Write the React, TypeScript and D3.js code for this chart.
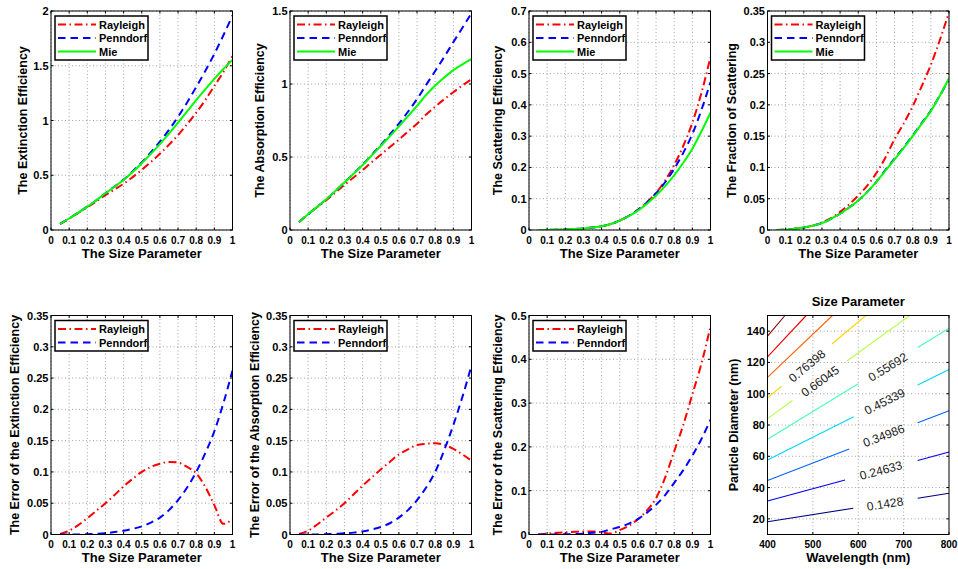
import * as d3 from 'd3';
import { useEffect, useRef } from 'react';

// size parameter samples shared by every curve panel
const sizeParam = [0.05, 0.1, 0.15, 0.2, 0.25, 0.3, 0.35, 0.4, 0.45, 0.5, 0.55, 0.6, 0.65, 0.7, 0.75, 0.8, 0.85, 0.9, 0.95, 1.0];

const mieExt = [0.055, 0.105, 0.158, 0.213, 0.272, 0.335, 0.395, 0.457, 0.53, 0.61, 0.695, 0.785, 0.88, 0.98, 1.083, 1.187, 1.285, 1.38, 1.47, 1.553];
const rayExt = [0.055, 0.104, 0.156, 0.207, 0.262, 0.318, 0.37, 0.422, 0.483, 0.549, 0.62, 0.696, 0.778, 0.867, 0.966, 1.071, 1.187, 1.315, 1.444, 1.59];
const penExt = [0.055, 0.105, 0.158, 0.213, 0.272, 0.336, 0.397, 0.46, 0.535, 0.618, 0.708, 0.806, 0.914, 1.034, 1.164, 1.306, 1.452, 1.608, 1.779, 1.96];

const mieAbs = [0.055, 0.108, 0.16, 0.21, 0.267, 0.325, 0.385, 0.445, 0.51, 0.575, 0.642, 0.71, 0.78, 0.85, 0.925, 0.99, 1.045, 1.095, 1.135, 1.17];
const rayAbs = [0.055, 0.107, 0.157, 0.204, 0.257, 0.309, 0.36, 0.41, 0.464, 0.515, 0.568, 0.619, 0.674, 0.728, 0.791, 0.845, 0.896, 0.944, 0.99, 1.032];
const penAbs = [0.055, 0.108, 0.16, 0.21, 0.267, 0.326, 0.386, 0.447, 0.514, 0.582, 0.654, 0.729, 0.81, 0.897, 0.994, 1.089, 1.186, 1.287, 1.385, 1.486];

const mieSca = [0, 0.0003, 0.0008, 0.0015, 0.003, 0.005, 0.008, 0.012, 0.019, 0.03, 0.044, 0.062, 0.084, 0.11, 0.14, 0.175, 0.215, 0.26, 0.315, 0.375];
const raySca = [0, 0.0003, 0.0008, 0.0015, 0.003, 0.005, 0.008, 0.012, 0.019, 0.0303, 0.0449, 0.0642, 0.0886, 0.119, 0.158, 0.208, 0.269, 0.343, 0.438, 0.553];
const penSca = [0, 0.0003, 0.0008, 0.0015, 0.003, 0.005, 0.008, 0.012, 0.019, 0.0305, 0.0451, 0.0642, 0.0882, 0.1175, 0.1526, 0.1957, 0.2466, 0.3068, 0.3837, 0.473];

const mieFrac = [0.0001, 0.0005, 0.002, 0.004, 0.007, 0.011, 0.018, 0.026, 0.036, 0.047, 0.061, 0.077, 0.095, 0.113, 0.131, 0.15, 0.17, 0.19, 0.215, 0.242];
const rayFrac = [0.0001, 0.0005, 0.002, 0.004, 0.007, 0.012, 0.019, 0.029, 0.041, 0.055, 0.071, 0.091, 0.116, 0.145, 0.17, 0.198, 0.23, 0.264, 0.304, 0.348];
const penFrac = [0.0001, 0.0005, 0.002, 0.004, 0.007, 0.011, 0.018, 0.026, 0.036, 0.047, 0.061, 0.077, 0.096, 0.114, 0.132, 0.151, 0.171, 0.191, 0.215, 0.241];

const rayErrExt = [0.001, 0.006, 0.015, 0.026, 0.038, 0.05, 0.063, 0.077, 0.089, 0.1, 0.108, 0.113, 0.116, 0.115, 0.108, 0.098, 0.076, 0.047, 0.017, 0.025];
const penErrExt = [0, 0, 0, 0.0005, 0.001, 0.002, 0.004, 0.006, 0.009, 0.013, 0.019, 0.027, 0.039, 0.055, 0.075, 0.1, 0.13, 0.165, 0.21, 0.262];
const rayErrAbs = [0.001, 0.006, 0.016, 0.027, 0.038, 0.05, 0.064, 0.078, 0.091, 0.104, 0.116, 0.128, 0.136, 0.143, 0.145, 0.146, 0.143, 0.137, 0.128, 0.118];
const penErrAbs = [0, 0, 0, 0.0005, 0.001, 0.002, 0.003, 0.005, 0.008, 0.012, 0.018, 0.027, 0.039, 0.055, 0.075, 0.1, 0.135, 0.175, 0.22, 0.27];
const rayErrSca = [0, 0.002, 0.004, 0.005, 0.006, 0.007, 0.007, 0.005, 0.002, 0.01, 0.02, 0.035, 0.055, 0.083, 0.13, 0.19, 0.25, 0.32, 0.39, 0.475];
const penErrSca = [0, 0, 0, 0.0005, 0.001, 0.002, 0.004, 0.006, 0.012, 0.017, 0.025, 0.035, 0.05, 0.068, 0.09, 0.118, 0.147, 0.18, 0.218, 0.262];

// tick values
const xTicks = [0, 0.1, 0.2, 0.3, 0.4, 0.5, 0.6, 0.7, 0.8, 0.9, 1];
const extTicks = [0, 0.5, 1, 1.5, 2];
const absTicks = [0, 0.5, 1, 1.5];
const scaTicks = [0, 0.1, 0.2, 0.3, 0.4, 0.5, 0.6, 0.7];
const fracTicks = [0, 0.05, 0.1, 0.15, 0.2, 0.25, 0.3, 0.35];
const errTicks = [0, 0.05, 0.1, 0.15, 0.2, 0.25, 0.3, 0.35];
const errScaTicks = [0, 0.1, 0.2, 0.3, 0.4, 0.5];
const wavelengthTicks = [400, 500, 600, 700, 800];
const diameterTicks = [20, 40, 60, 80, 100, 120, 140];

// contour of the size parameter: levels, visible pieces [wavelength, diameter], label spots
const contourLevels = [0.1428, 0.24633, 0.34986, 0.45339, 0.55692, 0.66045, 0.76398, 0.86751, 0.97104, 1.07457];
const contourSegments = [
  [[[400, 18.2], [589, 26.8]], [[731, 33.2], [800, 36.4]]],
  [[[400, 31.4], [571, 44.8]], [[731, 57.3], [800, 62.7]]],
  [[[400, 44.5], [580, 64.6]], [[731, 81.4], [800, 89.1]]],
  [[[400, 57.7], [590, 85.2]], [[731, 105.5], [800, 115.5]]],
  [[[400, 70.9], [600, 106.4]], [[731, 129.6], [800, 141.8]]],
  [[[400, 84.1], [455, 95.7]], [[575, 120.9], [713.5, 150]]],
  [[[400, 97.3], [431, 104.8]], [[542, 131.8], [616.8, 150]]],
  [[[400, 110.5], [543.2, 150]]],
  [[[400, 123.6], [485.3, 150]]],
  [[[400, 136.8], [438.5, 150]]]
];
const contourLabels = [
  { level: 0.1428, text: '0.1428', at: [659, 29.6] },
  { level: 0.24633, text: '0.24633', at: [650, 51] },
  { level: 0.34986, text: '0.34986', at: [656, 73.2] },
  { level: 0.45339, text: '0.45339', at: [658, 95] },
  { level: 0.55692, text: '0.55692', at: [665, 117] },
  { level: 0.66045, text: '0.66045', at: [516, 108] },
  { level: 0.76398, text: '0.76398', at: [487, 117.8] }
];

const width = 958;
const height = 569;
const colLeft = [51, 290, 529, 767.5];
const rowTop = [11, 315.5];
const panelW = 181.5;
const panelH = 219;
const font = "'Liberation Sans', Arial, Helvetica, sans-serif";

const styles = {
  Rayleigh: { color: '#ff0000', dash: '8 3.5 1.5 3.5' },
  Penndorf: { color: '#0000ff', dash: '7.5 5' },
  Mie: { color: '#00ff00', dash: null }
};

const panels = [
  { col: 0, row: 0, yMax: 2, yTicks: extTicks, yLabel: 'The Extinction Efficiency', yOff: 28,
    series: [['Rayleigh', rayExt], ['Penndorf', penExt], ['Mie', mieExt]] },
  { col: 1, row: 0, yMax: 1.5, yTicks: absTicks, yLabel: 'The Absorption Efficiency', yOff: 30,
    series: [['Rayleigh', rayAbs], ['Penndorf', penAbs], ['Mie', mieAbs]] },
  { col: 2, row: 0, yMax: 0.7, yTicks: scaTicks, yLabel: 'The Scattering Efficiency', yOff: 31,
    series: [['Rayleigh', raySca], ['Penndorf', penSca], ['Mie', mieSca]] },
  { col: 3, row: 0, yMax: 0.35, yTicks: fracTicks, yLabel: 'The Fraction of Scattering', yOff: 36,
    series: [['Rayleigh', rayFrac], ['Penndorf', penFrac], ['Mie', mieFrac]] },
  { col: 0, row: 1, yMax: 0.35, yTicks: errTicks, yLabel: 'The Error of the Extinction Efficiency', yOff: 36,
    series: [['Rayleigh', rayErrExt], ['Penndorf', penErrExt]] },
  { col: 1, row: 1, yMax: 0.35, yTicks: errTicks, yLabel: 'The Error of the Absorption Efficiency', yOff: 35,
    series: [['Rayleigh', rayErrAbs], ['Penndorf', penErrAbs]] },
  { col: 2, row: 1, yMax: 0.5, yTicks: errScaTicks, yLabel: 'The Error of the Scattering Efficiency', yOff: 31,
    series: [['Rayleigh', rayErrSca], ['Penndorf', penErrSca]] }
];

// MATLAB jet colormap
function jet(t) {
  const c = (v) => Math.round(255 * Math.max(0, Math.min(1, v)));
  return d3.rgb(c(1.5 - Math.abs(4 * t - 3)), c(1.5 - Math.abs(4 * t - 2)), c(1.5 - Math.abs(4 * t - 1))).formatHex();
}

function drawFrame(g, left, top, x, y, xt, yt, xLabel, yLabel, yOff) {
  const right = left + panelW;
  const bottom = top + panelH;
  const fmt = d3.format('~g');
  // tick marks (inside, all four sides)
  const tk = 2.5;
  xt.forEach((d) => {
    g.append('line').attr('x1', x(d)).attr('x2', x(d)).attr('y1', bottom).attr('y2', bottom - tk).attr('stroke', '#000');
    g.append('line').attr('x1', x(d)).attr('x2', x(d)).attr('y1', top).attr('y2', top + tk).attr('stroke', '#000');
  });
  yt.forEach((d) => {
    g.append('line').attr('x1', left).attr('x2', left + tk).attr('y1', y(d)).attr('y2', y(d)).attr('stroke', '#000');
    g.append('line').attr('x1', right).attr('x2', right - tk).attr('y1', y(d)).attr('y2', y(d)).attr('stroke', '#000');
  });
  g.append('rect').attr('x', left).attr('y', top).attr('width', panelW).attr('height', panelH)
    .attr('fill', 'none').attr('stroke', '#000').attr('stroke-width', 1);
  g.selectAll('.xt').data(xt).join('text')
    .attr('x', (d) => x(d)).attr('y', bottom + 13.5).attr('text-anchor', 'middle')
    .attr('font-size', 10).attr('font-weight', 'bold').text((d) => fmt(d));
  g.selectAll('.yt').data(yt).join('text')
    .attr('x', left - 2.5).attr('y', (d) => y(d) + 4).attr('text-anchor', 'end')
    .attr('font-size', 11).attr('font-weight', 'bold').text((d) => fmt(d));
  g.append('text').attr('x', left + panelW / 2).attr('y', bottom + 27.5).attr('text-anchor', 'middle')
    .attr('font-size', 13).attr('font-weight', 'bold').text(xLabel);
  g.append('text')
    .attr('transform', `translate(${left - yOff},${top + panelH / 2}) rotate(-90)`)
    .attr('text-anchor', 'middle').attr('dy', '0.35em')
    .attr('font-size', 12.5).attr('font-weight', 'bold').text(yLabel);
}

function drawGrid(g, left, top, x, y, xt, yt) {
  const grid = g.append('g').attr('stroke', '#8c8c8c').attr('stroke-width', 0.8).attr('stroke-dasharray', '1 2.5');
  xt.forEach((d) => grid.append('line').attr('x1', x(d)).attr('x2', x(d)).attr('y1', top).attr('y2', top + panelH));
  yt.forEach((d) => grid.append('line').attr('x1', left).attr('x2', left + panelW).attr('y1', y(d)).attr('y2', y(d)));
}

export default function App() {
  const svgRef = useRef(null);

  useEffect(() => {
    const svg = d3.select(svgRef.current);
    svg.selectAll('*').remove();
    svg.attr('width', width).attr('height', height).attr('viewBox', [0, 0, width, height])
      .attr('font-family', font);
    svg.append('rect').attr('width', width).attr('height', height).attr('fill', '#fff');

    panels.forEach((p, i) => {
      const left = colLeft[p.col];
      const top = rowTop[p.row];
      const x = d3.scaleLinear().domain([0, 1]).range([left, left + panelW]);
      const y = d3.scaleLinear().domain([0, p.yMax]).range([top + panelH, top]);
      const g = svg.append('g');
      drawGrid(g, left, top, x, y, xTicks, p.yTicks);

      const clipId = `clip${i}`;
      g.append('clipPath').attr('id', clipId).append('rect')
        .attr('x', left).attr('y', top).attr('width', panelW).attr('height', panelH);
      const line = d3.line().curve(d3.curveMonotoneX).x((d) => x(d[0])).y((d) => y(d[1]));
      p.series.forEach(([name, vals]) => {
        const st = styles[name];
        g.append('path').datum(sizeParam.map((s, k) => [s, vals[k]]))
          .attr('clip-path', `url(#${clipId})`)
          .attr('fill', 'none').attr('stroke', st.color).attr('stroke-width', 2)
          .attr('stroke-dasharray', st.dash).attr('d', line);
      });

      drawFrame(g, left, top, x, y, xTicks, p.yTicks, 'The Size Parameter', p.yLabel, p.yOff);

      // legend
      const n = p.series.length;
      const lx = left + 4;
      const ly = top + 5;
      const lg = g.append('g');
      lg.append('rect').attr('x', lx).attr('y', ly).attr('width', 93).attr('height', 17 + 13.5 * (n - 1))
        .attr('fill', '#fff').attr('stroke', '#000').attr('stroke-width', 1.5);
      p.series.forEach(([name], k) => {
        const st = styles[name];
        const cy = ly + 8.5 + 13.5 * k;
        lg.append('line').attr('x1', lx + 3).attr('x2', lx + 41).attr('y1', cy).attr('y2', cy)
          .attr('stroke', st.color).attr('stroke-width', 2).attr('stroke-dasharray', st.dash);
        lg.append('text').attr('x', lx + 44).attr('y', cy + 4).attr('font-size', 11)
          .attr('font-weight', 'bold').text(name);
      });
    });

    // contour panel
    const left = colLeft[3];
    const top = rowTop[1];
    const x = d3.scaleLinear().domain([400, 800]).range([left, left + panelW]);
    const y = d3.scaleLinear().domain([10, 150]).range([top + panelH, top]);
    const g = svg.append('g');
    drawGrid(g, left, top, x, y, wavelengthTicks.slice(1, -1), diameterTicks);
    const color = d3.scaleLinear().domain([contourLevels[0], contourLevels[contourLevels.length - 1]]).range([0, 1]);
    const line = d3.line().x((d) => x(d[0])).y((d) => y(d[1]));
    contourLevels.forEach((lev, i) => {
      contourSegments[i].forEach((seg) => {
        g.append('path').datum(seg).attr('fill', 'none').attr('stroke', jet(color(lev)))
          .attr('stroke-width', 1.1).attr('d', line);
      });
    });
    contourLabels.forEach((lb) => {
      const seg = contourSegments[contourLevels.indexOf(lb.level)][0];
      const ang = (Math.atan2(y(seg[1][1]) - y(seg[0][1]), x(seg[1][0]) - x(seg[0][0])) * 180) / Math.PI;
      g.append('text')
        .attr('transform', `translate(${x(lb.at[0])},${y(lb.at[1])}) rotate(${ang})`)
        .attr('text-anchor', 'middle').attr('dy', '0.35em')
        .attr('font-size', 12).attr('fill', '#1a1a1a').text(lb.text);
    });
    drawFrame(g, left, top, x, y, wavelengthTicks, diameterTicks, 'Wavelength (nm)', 'Particle Diameter (nm)', 34);
    g.append('text').attr('x', left + panelW / 2).attr('y', top - 9.5).attr('text-anchor', 'middle')
      .attr('font-size', 13).attr('font-weight', 'bold').text('Size Parameter');
  });

  return (
    <div style={{ position: 'absolute', left: 0, top: 0 }}>
      <svg ref={svgRef} style={{ display: 'block' }}></svg>
    </div>
  );
}
